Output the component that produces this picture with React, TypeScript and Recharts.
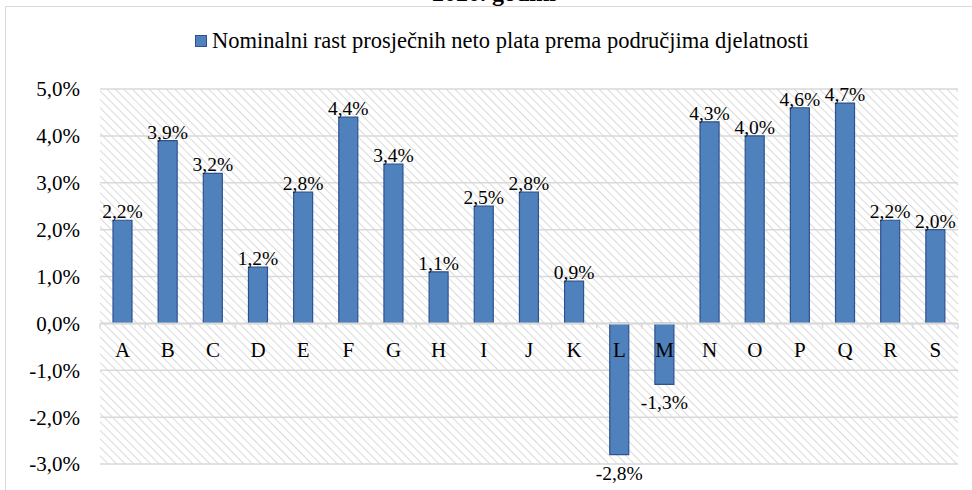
import React from 'react';
import { BarChart, Bar, XAxis, YAxis, CartesianGrid, Legend, LabelList, ReferenceLine } from 'recharts';

const categories = ['A', 'B', 'C', 'D', 'E', 'F', 'G', 'H', 'I', 'J', 'K', 'L', 'M', 'N', 'O', 'P', 'Q', 'R', 'S'];
const growth = [2.2, 3.9, 3.2, 1.2, 2.8, 4.4, 3.4, 1.1, 2.5, 2.8, 0.9, -2.8, -1.3, 4.3, 4.0, 4.6, 4.7, 2.2, 2.0];
const yTicks = [-3, -2, -1, 0, 1, 2, 3, 4, 5];
const seriesName = 'Nominalni rast prosječnih neto plata prema područjima djelatnosti';
const titleText = '2020. godini';

const data = categories.map((c, i) => ({ cat: c, value: growth[i] }));

const FONT = "'Liberation Serif', 'Times New Roman', Tinos, 'Noto Serif', 'DejaVu Serif', FreeSerif, serif";
const W = 972;
const H = 490;
const LEGEND_H = 24;
const PLOT_TOP = 89;
const X_AXIS_H = 2;
const MARGIN = { top: PLOT_TOP - LEGEND_H, right: 14, bottom: 26 - X_AXIS_H, left: 0 };
const Y_AXIS_W = 100;
const PLOT_LEFT = MARGIN.left + Y_AXIS_W;
const PLOT_RIGHT = W - MARGIN.right;
const PLOT_BOTTOM = H - 26;
const DOMAIN_MIN = -3;
const DOMAIN_MAX = 5;
const ZERO_Y = PLOT_TOP + ((PLOT_BOTTOM - PLOT_TOP) * DOMAIN_MAX) / (DOMAIN_MAX - DOMAIN_MIN);
const BAND = (PLOT_RIGHT - PLOT_LEFT) / categories.length;

const fmt = (v: number) => v.toFixed(1).replace('.', ',') + '%';

const CategoryTick = (props: any) => {
  const { x, payload, index } = props;
  const isLast = index === categories.length - 1;
  return (
    <g>
      <line x1={x - BAND / 2} x2={x - BAND / 2} y1={ZERO_Y} y2={ZERO_Y + 5} stroke="#d9d9d9" strokeWidth={1.5} />
      {isLast && (
        <line x1={x + BAND / 2} x2={x + BAND / 2} y1={ZERO_Y} y2={ZERO_Y + 5} stroke="#d9d9d9" strokeWidth={1.5} />
      )}
      <text x={x} y={ZERO_Y + 34} textAnchor="middle" fontFamily={FONT} fontSize={21} fill="#000">
        {payload.value}
      </text>
    </g>
  );
};

const ValueLabel = (props: any) => {
  const { x, y, width, height, value } = props;
  const top = Math.min(y, y + height);
  const bottom = Math.max(y, y + height);
  const cx = x + width / 2;
  const ty = value >= 0 ? top - 2 : bottom + 25;
  return (
    <text x={cx} y={ty} textAnchor="middle" fontFamily={FONT} fontSize={19.5} fill="#000">
      {fmt(value)}
    </text>
  );
};

const LegendContent = () => (
  <div style={{ display: 'flex', alignItems: 'center', fontFamily: FONT, fontSize: 22.5, color: '#000', height: LEGEND_H, lineHeight: `${LEGEND_H}px`, whiteSpace: 'nowrap' }}>
    <span style={{ display: 'inline-block', width: 10, height: 10, background: '#4F81BD', border: '1px solid #2F528F', marginRight: 5 }} />
    <span>{seriesName}</span>
  </div>
);

export default function App() {
  return (
    <div style={{ position: 'absolute', left: 0, top: 0, width: W, height: H, overflow: 'hidden', background: '#fff' }}>
      <div
        style={{
          position: 'absolute',
          left: 0,
          width: 988,
          top: -19,
          textAlign: 'center',
          fontFamily: FONT,
          fontSize: 24,
          lineHeight: '24px',
          fontWeight: 'bold',
          color: '#000',
          whiteSpace: 'nowrap',
        }}
      >
        {titleText}
      </div>
      <div style={{ position: 'absolute', left: 5, top: 6, width: 1000, height: 600, border: '1.5px solid #d9d9d9', boxSizing: 'border-box' }} />
      <div style={{ position: 'absolute', left: 0, top: 0 }}>
        <BarChart width={W} height={H} data={data} margin={MARGIN}>
          <defs>
            <pattern id="hatch" width="6" height="6" patternUnits="userSpaceOnUse" patternTransform="rotate(-45)">
              <rect width="6" height="6" fill="#ffffff" />
              <line x1="0" y1="0" x2="0" y2="6" stroke="#dadada" strokeWidth="2" />
            </pattern>
          </defs>
          <CartesianGrid vertical={false} stroke="#d9d9d9" strokeWidth={1.5} fill="url(#hatch)" fillOpacity={1} />
          <YAxis
            width={Y_AXIS_W}
            domain={[DOMAIN_MIN, DOMAIN_MAX]}
            ticks={yTicks}
            tickFormatter={fmt}
            axisLine={false}
            tickLine={false}
            tickSize={0}
            tickMargin={20}
            interval={0}
            tick={{ fontFamily: FONT, fontSize: 21, fill: '#000' }}
          />
          <XAxis
            dataKey="cat"
            height={X_AXIS_H}
            axisLine={false}
            tickLine={false}
            interval={0}
            tick={(p: any) => <CategoryTick {...p} />}
          />
          <Legend
            verticalAlign="top"
            align="left"
            height={LEGEND_H}
            content={<LegendContent />}
            wrapperStyle={{ top: 29, left: 195, width: 'auto' }}
          />
          <ReferenceLine y={0} stroke="#d9d9d9" strokeWidth={2} />
          <Bar dataKey="value" name={seriesName} fill="#4F81BD" stroke="#2F528F" strokeWidth={1.2} barSize={19} isAnimationActive={false}>
            <LabelList dataKey="value" content={<ValueLabel />} />
          </Bar>
        </BarChart>
      </div>
    </div>
  );
}
